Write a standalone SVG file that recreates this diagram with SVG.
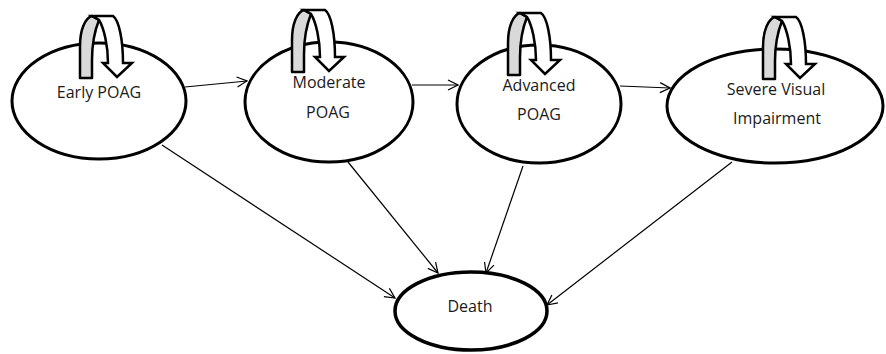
<svg xmlns="http://www.w3.org/2000/svg" width="886" height="354" viewBox="0 0 886 354">
<style>
.node{fill:#fff;stroke:#000;stroke-width:3}
.lbl{font-family:"Open Sans","Noto Sans","Liberation Sans",sans-serif;font-size:16px;fill:#1a1a1a;text-anchor:middle}
.edge{stroke:#000;stroke-width:1.2;fill:none;marker-end:url(#ah)}
.loopg{fill:#d9d9d9;stroke:#000;stroke-width:2.5;stroke-linejoin:round}
.loopw{fill:#fff;stroke:#000;stroke-width:2.5;stroke-linejoin:miter}
</style>
<defs>
<marker id="ah" markerUnits="userSpaceOnUse" markerWidth="12" markerHeight="12" refX="11" refY="6" orient="auto">
<path d="M1,1 L11,6 L1,11" fill="none" stroke="#000" stroke-width="1.2"/>
</marker>
<g id="loop">
<path class="loopg" d="M0,62 L0,30 C0,14 5,2 12,0 L19,4 C15,14 12,28 12,44 L12,62 Z"/>
<path class="loopw" d="M12,0 L33,0 C39,4 43,24 43,47 L52,47 L37,61 L23,47 L28,47 C28,30 24,12 19,4 Z"/>
</g>
</defs>
<g id="node-early">
<ellipse class="node" cx="99" cy="101" rx="87" ry="58"/>
<use href="#loop" transform="translate(80,16)"/>
<text class="lbl" x="99" y="98">Early POAG</text>
</g>
<g id="node-moderate">
<ellipse class="node" cx="329" cy="102" rx="84" ry="60"/>
<use href="#loop" transform="translate(292,10)"/>
<text class="lbl" x="329" y="88">Moderate</text>
<text class="lbl" x="328" y="118">POAG</text>
</g>
<g id="node-advanced">
<ellipse class="node" cx="539" cy="104" rx="82" ry="59"/>
<use href="#loop" transform="translate(508,13)"/>
<text class="lbl" x="539" y="91">Advanced</text>
<text class="lbl" x="539" y="120">POAG</text>
</g>
<g id="node-severe">
<ellipse class="node" cx="775" cy="106" rx="108" ry="57"/>
<use href="#loop" transform="translate(763,17)"/>
<text class="lbl" x="776" y="95">Severe Visual</text>
<text class="lbl" x="777" y="124">Impairment</text>
</g>
<g id="node-death">
<ellipse class="node" cx="471" cy="311" rx="76" ry="39" style="stroke-width:3.5"/>
<text class="lbl" x="470" y="312">Death</text>
</g>
<g id="connectors">
<line class="edge" x1="185" y1="87" x2="247" y2="81"/>
<line class="edge" x1="412" y1="85" x2="458" y2="85"/>
<line class="edge" x1="620" y1="86" x2="670" y2="88"/>
<line class="edge" x1="162" y1="145" x2="395" y2="298"/>
<line class="edge" x1="348" y1="162" x2="438" y2="273"/>
<line class="edge" x1="523" y1="166" x2="486" y2="273"/>
<line class="edge" x1="732" y1="162" x2="547" y2="305"/>
</g>
</svg>
